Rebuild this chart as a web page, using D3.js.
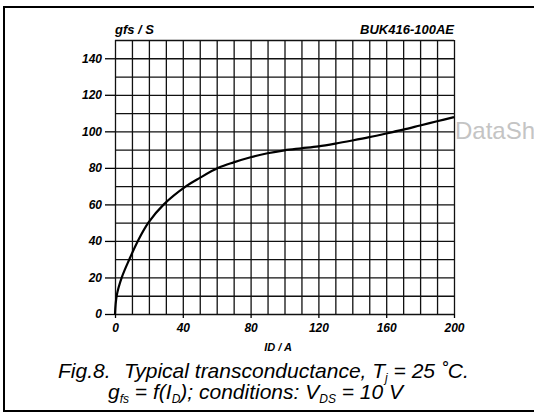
<!DOCTYPE html>
<html lang="en">
<head>
  <meta charset="UTF-8">
  <title>Fig.8 Typical transconductance</title>
  <script src="https://d3js.org/d3.v7.min.js"></script>
  <style>
    body {
      margin: 0;
      background: #fff;
      font-family: "Liberation Sans", Arial, sans-serif;
    }
    .grid line {
      stroke: #111;
      stroke-width: 1.3;
    }
    .grid path {
      display: none;
    }
    .tick text {
      font-weight: bold;
      font-style: italic;
      font-size: 12px;
      fill: #000;
    }
    .caption {
      font-style: italic;
      font-size: 21px;
      fill: #000;
    }
  </style>
</head>
<body>
  <div id="chart"></div>
  <script>
    // drain current ID (A) and forward transconductance gfs (S)
    const idValues = [0, 1, 4, 8.5, 13.5, 19.7, 28.8, 42, 50, 61, 70, 80, 90, 100, 110, 120, 130, 140, 150, 160, 170, 180, 190, 200];
    const gfsValues = [0, 10, 20, 30, 40, 50, 60, 70, 74.5, 80, 83, 85.8, 88, 89.6, 90.7, 91.8, 93.3, 95, 96.8, 98.8, 100.9, 103.2, 105.5, 107.8];
    const xTicks = [0, 40, 80, 120, 160, 200];
    const yTicks = [0, 20, 40, 60, 80, 100, 120, 140];
    const xGrid = d3.range(0, 201, 10);
    const yGrid = d3.range(0, 151, 10);

    const data = idValues.map((d, i) => ({ id: d, gfs: gfsValues[i] }));

    const width = 534;
    const height = 413;
    const plot = { left: 115, right: 454, top: 40, bottom: 314 };

    const svg = d3.select("#chart")
                  .append("svg")
                  .attr("width", width)
                  .attr("height", height);

    // scanned frame (right side is cut off in the original)
    svg.append("path")
       .attr("d", "M534,7 H4 V411 H534")
       .attr("fill", "none")
       .attr("stroke", "#000")
       .attr("stroke-width", 2);

    const x = d3.scaleLinear().domain([0, 200]).range([plot.left, plot.right]);
    const y = d3.scaleLinear().domain([0, 150]).range([plot.bottom, plot.top]);

    // grid
    svg.append("g")
       .attr("class", "grid")
       .attr("transform", `translate(0, ${plot.bottom})`)
       .call(d3.axisBottom(x).tickValues(xGrid).tickSize(-(plot.bottom - plot.top)).tickFormat(""));

    svg.append("g")
       .attr("class", "grid")
       .attr("transform", `translate(${plot.left}, 0)`)
       .call(d3.axisLeft(y).tickValues(yGrid).tickSize(-(plot.right - plot.left)).tickFormat(""));

    // labelled ticks
    const xAxis = svg.append("g")
       .attr("transform", `translate(0, ${plot.bottom})`)
       .call(d3.axisBottom(x).tickValues(xTicks).tickSize(4).tickPadding(5));
    xAxis.select(".domain").remove();
    xAxis.selectAll(".tick line").attr("stroke", "#000").attr("stroke-width", 1.3);

    const yAxis = svg.append("g")
       .attr("transform", `translate(${plot.left}, 0)`)
       .call(d3.axisLeft(y).tickValues(yTicks).tickSize(10).tickPadding(3));
    yAxis.select(".domain").remove();
    yAxis.selectAll(".tick line").attr("stroke", "#000").attr("stroke-width", 1.3);

    // curve
    const line = d3.line()
                   .x(d => x(d.id))
                   .y(d => y(d.gfs))
                   .curve(d3.curveCatmullRom.alpha(0.5));

    svg.append("path")
       .datum(data)
       .attr("d", line)
       .attr("fill", "none")
       .attr("stroke", "#000")
       .attr("stroke-width", 2.2);

    // labels
    svg.append("text")
       .attr("x", plot.left)
       .attr("y", 34)
       .attr("font-size", 13)
       .attr("font-weight", "bold")
       .attr("font-style", "italic")
       .text("gfs / S");

    svg.append("text")
       .attr("x", plot.right)
       .attr("y", 34)
       .attr("text-anchor", "end")
       .attr("font-size", 13)
       .attr("font-weight", "bold")
       .attr("font-style", "italic")
       .text("BUK416-100AE");

    svg.append("text")
       .attr("x", 278)
       .attr("y", 351)
       .attr("text-anchor", "middle")
       .attr("font-size", 11)
       .attr("font-weight", "bold")
       .attr("font-style", "italic")
       .text("ID / A");

    const cap1 = svg.append("text")
       .attr("class", "caption")
       .attr("y", 378);
    cap1.append("tspan").attr("x", 58).text("Fig.8.");
    cap1.append("tspan").attr("x", 124).text("Typical transconductance, T");
    cap1.append("tspan").attr("font-size", 12).attr("dy", 4).text("j");
    cap1.append("tspan").attr("dy", -4).text(" = 25 ˚C.");

    const cap2 = svg.append("text")
       .attr("class", "caption")
       .attr("font-size", 20)
       .attr("x", 108)
       .attr("y", 399);
    cap2.append("tspan").text("g");
    cap2.append("tspan").attr("font-size", 12).attr("dy", 4).text("fs");
    cap2.append("tspan").attr("dy", -4).text(" = f(I");
    cap2.append("tspan").attr("font-size", 12).attr("dy", 4).text("D");
    cap2.append("tspan").attr("dy", -4).text("); conditions: V");
    cap2.append("tspan").attr("font-size", 12).attr("dy", 4).text("DS");
    cap2.append("tspan").attr("dy", -4).text(" = 10 V");

    // faint watermark from the scan
    svg.append("text")
       .attr("x", 455)
       .attr("y", 139)
       .attr("font-size", 24)
       .attr("fill", "#c4c4c4")
       .text("DataSheet");
  </script>
</body>
</html>
